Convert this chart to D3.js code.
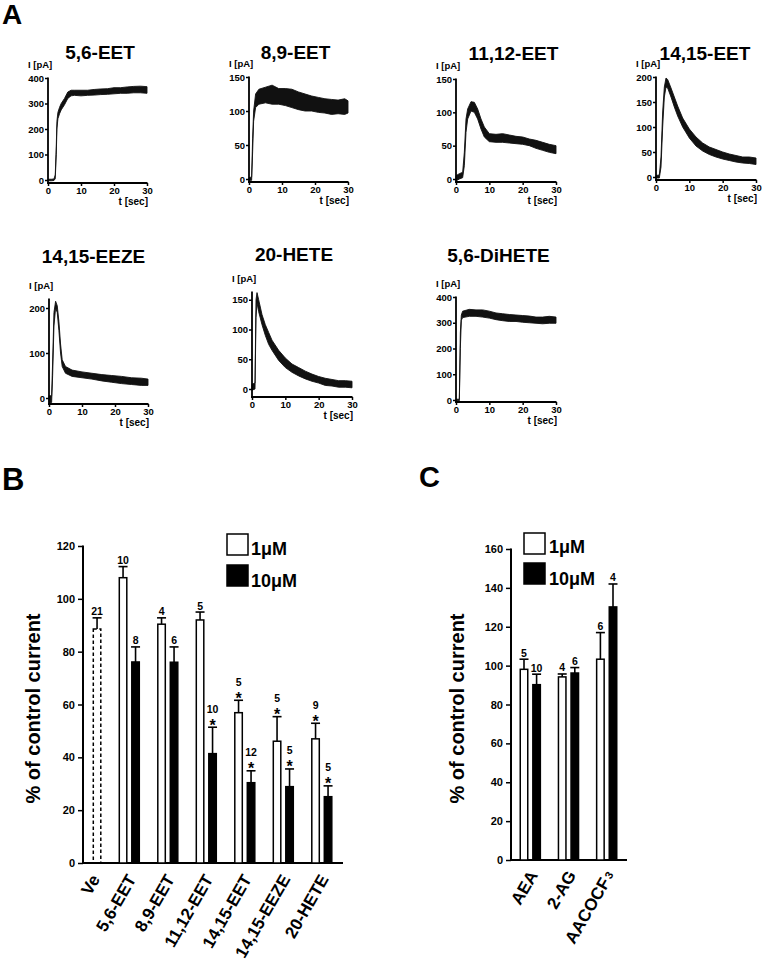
<!DOCTYPE html>
<html><head><meta charset="utf-8">
<script src="https://cdn.jsdelivr.net/npm/d3@7/dist/d3.min.js"></script>
<style>
body{margin:0;background:#fff;}
svg{display:block;}
</style></head><body>
<svg id="fig" width="763" height="967"></svg>
<script>
// ---------- Panel A: current traces, each point [t (s), low (pA), high (pA)] ----------
const trace56EET = [[0,-3,3],[1,-3,3],[1.8,-2,4],[2.2,5,20],[2.5,100,130],[2.7,200,230],[3,240,265],[3.5,260,285],[4,275,300],[5,295,320],[6,320,345],[7,330,352],[8,332,352],[10,330,352],[12,332,352],[14,333,355],[16,335,357],[18,336,358],[20,338,362],[22,340,362],[24,340,365],[26,342,367],[28,342,368],[30,340,366]];
const trace89EET = [[0,-2,2],[0.8,-2,3],[1.1,40,60],[1.4,85,100],[2,105,125],[3,110,132],[5,112,135],[7,110,138],[9,110,133],[11,108,133],[13,105,132],[15,102,128],[17,100,125],[19,100,122],[21,98,120],[23,97,118],[25,95,117],[27,96,116],[29,95,118],[30,97,115]];
const trace1112EET = [[0,-3,5],[1,0,8],[2,2,10],[2.5,20,40],[3,70,90],[3.5,90,105],[4.5,102,116],[5.5,100,115],[6.5,90,105],[7.5,75,90],[8.5,63,78],[10,56,68],[12,55,67],[14,55,68],[16,54,66],[18,53,64],[20,52,63],[22,50,60],[24,46,58],[26,43,55],[28,40,52],[30,38,50]];
const trace1415EET = [[0,-2,3],[1,-2,4],[1.5,20,40],[2,100,130],[2.5,160,180],[3,180,198],[3.5,178,195],[4.5,160,178],[5.5,140,160],[6.5,122,142],[8,100,118],[10,78,96],[12,62,80],[14,52,68],[16,45,60],[18,40,55],[20,36,50],[22,33,46],[24,30,43],[26,28,40],[28,27,40],[30,25,38]];
const trace1415EEZE = [[0,-10,5],[0.8,-10,5],[1.1,50,80],[1.5,160,190],[2,200,215],[2.5,190,205],[3,150,170],[3.5,100,120],[4,70,85],[5,55,70],[7,48,62],[10,45,58],[13,42,55],[16,38,52],[19,35,50],[22,32,48],[25,30,45],[28,28,44],[30,28,42]];
const trace20HETE = [[0,-2,8],[0.9,0,10],[1.2,120,150],[1.5,145,162],[2,130,150],[3,108,125],[4,90,108],[5,75,95],[6,65,82],[8,48,65],[10,36,52],[12,28,42],[14,22,36],[16,17,30],[18,13,25],[20,10,21],[22,6,18],[24,5,16],[26,3,14],[28,3,14],[30,2,13]];
const trace56DiHETE = [[0,-3,3],[1,-3,3],[1.3,200,260],[1.6,310,330],[2,320,345],[4,325,352],[6,325,350],[8,322,350],[10,318,345],[12,312,338],[14,308,335],[16,305,332],[18,305,330],[20,302,328],[22,300,326],[24,298,322],[26,296,322],[28,298,325],[30,298,322]];
const traceTicks400 = [0,100,200,300,400];
const traceTicks150 = [0,50,100,150];
const traceTicks200 = [0,50,100,150,200];
const traceTicksEEZE = [0,100,200];
const timeTicks = [0,10,20,30];

// ---------- Panel B ----------
const bCategories = ["Ve","5,6-EET","8,9-EET","11,12-EET","14,15-EET","14,15-EEZE","20-HETE"];
const bVe = [88.6];  const bVeErr = [4.2]; const bVeN = [21];
const b1uM    = [108, 90.4, 92, 56.9, 46.1, 47];
const b1uMErr = [4.2, 2.4, 3, 4.7, 9.3, 5.9];
const b1uMN   = [10, 4, 5, 5, 5, 9];
const b1uMSig = [false, false, false, true, true, true];
const b10uM    = [76.1, 76, 41.4, 30.4, 28.9, 25.1];
const b10uMErr = [5.7, 5.8, 10, 4.5, 6.7, 4.1];
const b10uMN   = [8, 6, 10, 12, 5, 5];
const b10uMSig = [false, false, true, true, true, true];
const bTicks = [0,20,40,60,80,100,120];

// ---------- Panel C ----------
const cCategories = ["AEA","2-AG","AACOCF3"];
const c1uM    = [98.1, 94.2, 103.3];
const c1uMErr = [5.2, 1.5, 13.7];
const c1uMN   = [5, 4, 6];
const c10uM    = [90.2, 96.2, 130.2];
const c10uMErr = [5.4, 2.8, 11.8];
const c10uMN   = [10, 6, 4];
const cTicks = [0,20,40,60,80,100,120,140,160];
const legendLabels = ["1μM","10μM"];

// ================= drawing =================
const FONT = '"Liberation Sans", Arial, Helvetica, sans-serif';
const svg = d3.select("#fig").attr("font-family", FONT);
svg.append("rect").attr("width",763).attr("height",967).attr("fill","#fff");

function txt(g, x, y, s, size, anchor) {
  return g.append("text").attr("x",x).attr("y",y).text(s)
    .attr("font-size",size).attr("font-weight","bold").attr("fill","#000")
    .attr("text-anchor",anchor||"start");
}

// panel letters
txt(svg, 2, 24, "A", 28);
txt(svg, 2, 490, "B", 31);
txt(svg, 419, 487, "C", 29);

const traceLayout = [
  {name:"5,6-EET",    data:trace56EET,    ticks:traceTicks400, x0:48,  x1:147, y0:180, topVal:400, topPx:78,  axisY:183, tx:100,   ty:59},
  {name:"8,9-EET",    data:trace89EET,    ticks:traceTicks150, x0:249, x1:348, y0:179, topVal:150, topPx:77,  axisY:182, tx:295.5, ty:59},
  {name:"11,12-EET",  data:trace1112EET,  ticks:traceTicks150, x0:456, x1:556, y0:179, topVal:150, topPx:79,  axisY:182, tx:513.5, ty:60},
  {name:"14,15-EET",  data:trace1415EET,  ticks:traceTicks200, x0:656, x1:756, y0:177, topVal:200, topPx:77,  axisY:180, tx:705,   ty:60},
  {name:"14,15-EEZE", data:trace1415EEZE, ticks:traceTicksEEZE,x0:49,  x1:148, y0:398, topVal:220, topPx:299, axisY:404, tx:93.5,  ty:263},
  {name:"20-HETE",    data:trace20HETE,   ticks:traceTicks150, x0:252, x1:352, y0:389, topVal:163, topPx:292, axisY:397, tx:294,   ty:261},
  {name:"5,6-DiHETE", data:trace56DiHETE, ticks:traceTicks400, x0:456, x1:556, y0:400, topVal:400, topPx:297, axisY:402, tx:498.5, ty:262}
];

traceLayout.forEach(p => {
  const g = svg.append("g");
  const x = d3.scaleLinear().domain([0,30]).range([p.x0,p.x1]);
  const y = d3.scaleLinear().domain([0,p.topVal]).range([p.y0,p.topPx]);
  const area = d3.area().x(d=>x(d[0])).y0(d=>y(d[1])).y1(d=>y(d[2]));
  g.append("path").datum(p.data).attr("d",area)
    .attr("fill","#111").attr("stroke","#111").attr("stroke-width",0.9).attr("stroke-linejoin","round");
  // y axis
  const ya = g.append("g").attr("transform",`translate(${p.x0},0)`)
    .call(d3.axisLeft(y).tickValues(p.ticks).tickSize(3).tickPadding(1).tickSizeOuter(0));
  ya.select(".domain").remove();
  ya.selectAll("line").attr("stroke","#000").attr("stroke-width",1.5);
  ya.selectAll("text").attr("font-family",FONT).attr("font-weight","bold").attr("font-size",9.5).attr("fill","#000");
  g.append("line").attr("x1",p.x0).attr("x2",p.x0).attr("y1",y(p.topVal)-0.5).attr("y2",p.axisY+0.9)
    .attr("stroke","#000").attr("stroke-width",1.8);
  // x axis
  const xa = g.append("g").attr("transform",`translate(0,${p.axisY})`)
    .call(d3.axisBottom(x).tickValues(timeTicks).tickSize(3).tickPadding(1).tickSizeOuter(0));
  xa.select(".domain").remove();
  xa.selectAll("line").attr("stroke","#000").attr("stroke-width",1.5);
  xa.selectAll("text").attr("font-family",FONT).attr("font-weight","bold").attr("font-size",9.5).attr("fill","#000");
  g.append("line").attr("x1",p.x0-0.9).attr("x2",p.x1+0.5).attr("y1",p.axisY).attr("y2",p.axisY)
    .attr("stroke","#000").attr("stroke-width",1.8);
  // labels
  txt(g, p.tx, p.ty, p.name, 19, "middle");
  txt(g, p.x0-20, y(p.topVal)-10, "I [pA]", 9.5);
  txt(g, p.x1+1, p.axisY+22, "t [sec]", 10, "end");
});

// ---------- bar panel helper ----------
function drawBarAxis(g, y, ticks, x0, x1, yLabelX) {
  const ya = g.append("g").attr("transform",`translate(${x0},0)`)
    .call(d3.axisLeft(y).tickValues(ticks).tickSize(5).tickPadding(3).tickSizeOuter(0));
  ya.select(".domain").remove();
  ya.selectAll("line").attr("stroke","#000").attr("stroke-width",1.5);
  ya.selectAll("text").attr("font-family",FONT).attr("font-weight","bold").attr("font-size",11).attr("fill","#000");
  const top = y(ticks[ticks.length-1]);
  g.append("line").attr("x1",x0).attr("x2",x0).attr("y1",top-0.5).attr("y2",y(0)+1)
    .attr("stroke","#000").attr("stroke-width",2);
  g.append("line").attr("x1",x0-1).attr("x2",x1).attr("y1",y(0)).attr("y2",y(0))
    .attr("stroke","#000").attr("stroke-width",2);
  const cy = (top + y(0))/2 + 4;
  g.append("text").attr("transform",`translate(${yLabelX},${cy}) rotate(-90)`)
    .attr("text-anchor","middle").attr("font-size",20).attr("font-weight","bold").attr("fill","#000")
    .text("% of control current");
}

function drawBar(g, y, cx, v, err, n, sig, filled, dashed) {
  const w = 7.5;
  const top = y(v), cap = y(v+err);
  g.append("line").attr("x1",cx).attr("x2",cx).attr("y1",top).attr("y2",cap)
    .attr("stroke","#000").attr("stroke-width",1.6);
  g.append("line").attr("x1",cx-4.5).attr("x2",cx+4.5).attr("y1",cap).attr("y2",cap)
    .attr("stroke","#000").attr("stroke-width",1.6);
  const r = g.append("rect").attr("x",cx-w/2).attr("y",top).attr("width",w).attr("height",y(0)-top)
    .attr("fill",filled?"#000":"#fff").attr("stroke","#000").attr("stroke-width",1.5);
  if (dashed) r.attr("stroke-dasharray","3.5,2.5").attr("fill","none");
  if (sig) {
    txt(g, cx, cap+3.5, "*", 16, "middle");
    txt(g, cx, cap-14.5, String(n), 10.5, "middle");
  } else {
    txt(g, cx, cap-2.5, String(n), 10.5, "middle");
  }
}

function drawLegend(g, x, y1, y2, tx, b1, b2) {
  g.append("rect").attr("x",x).attr("y",y1).attr("width",21).attr("height",21).attr("fill","#fff").attr("stroke","#000").attr("stroke-width",1.5);
  g.append("rect").attr("x",x).attr("y",y2).attr("width",21).attr("height",21).attr("fill","#000").attr("stroke","#000").attr("stroke-width",1.5);
  txt(g, tx, b1, legendLabels[0], 18);
  txt(g, tx, b2, legendLabels[1], 18);
}

// ---------- Panel B ----------
{
  const g = svg.append("g");
  const y = d3.scaleLinear().domain([0,120]).range([863,546]);
  const x = d3.scaleBand().domain(bCategories).range([71.55, 71.55+7*38.5]);
  const off = 6.25;
  const cx = c => x(c) + x.bandwidth()/2;
  drawBarAxis(g, y, bTicks, 83, 343, 40);
  drawBar(g, y, cx("Ve")+off, bVe[0], bVeErr[0], bVeN[0], false, false, true);
  bCategories.slice(1).forEach((c,i) => {
    drawBar(g, y, cx(c)-off, b1uM[i], b1uMErr[i], b1uMN[i], b1uMSig[i], false, false);
    drawBar(g, y, cx(c)+off, b10uM[i], b10uMErr[i], b10uMN[i], b10uMSig[i], true, false);
  });
  bCategories.forEach((c,i) => {
    const ex = i===0 ? cx(c)+off+3.5 : cx(c)+7.5;
    g.append("text").attr("transform",`translate(${ex},${y(0)+16}) rotate(-60)`)
      .attr("text-anchor","end").attr("font-size",17).attr("font-weight","bold").attr("fill","#000").text(c);
  });
  drawLegend(g, 227, 534, 565, 251, 555, 587);
}

// ---------- Panel C ----------
{
  const g = svg.append("g");
  const y = d3.scaleLinear().domain([0,160]).range([860,549]);
  const x = d3.scaleBand().domain(cCategories).range([511.2, 511.2+3*38.2]);
  const off = 6.3;
  const cx = c => x(c) + x.bandwidth()/2;
  drawBarAxis(g, y, cTicks, 511, 627, 464);
  cCategories.forEach((c,i) => {
    drawBar(g, y, cx(c)-off, c1uM[i], c1uMErr[i], c1uMN[i], false, false, false);
    drawBar(g, y, cx(c)+off, c10uM[i], c10uMErr[i], c10uMN[i], false, true, false);
  });
  cCategories.forEach((c,i) => {
    const t = g.append("text").attr("transform",`translate(${cx(c)+8},${y(0)+15}) rotate(-60)`)
      .attr("text-anchor","end").attr("font-size",17).attr("font-weight","bold").attr("fill","#000");
    const m = c.match(/^(.*?)(\d)$/);
    if (m && c === "AACOCF3") {
      t.append("tspan").text(m[1]);
      t.append("tspan").attr("font-size",11).attr("dx",2).attr("dy",-1).text(m[2]);
    } else t.text(c);
  });
  drawLegend(g, 524, 533, 563, 549, 553, 585);
}
</script>
</body></html>
